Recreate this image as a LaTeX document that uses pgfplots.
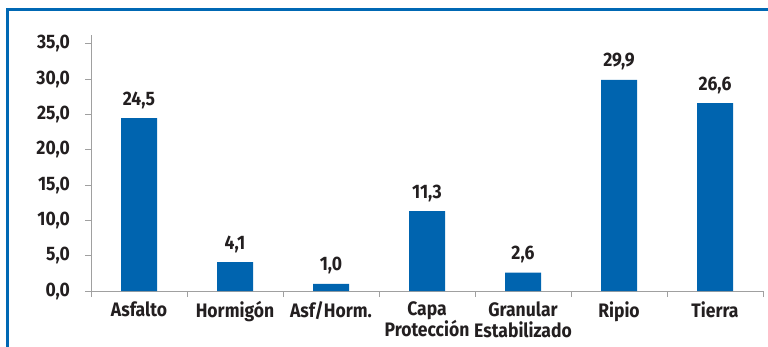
\documentclass[border=0pt]{standalone}
\usepackage{fontspec}
\setmainfont{Fira Sans}[FakeStretch=0.9]
\usepackage{pgfplots}
\pgfplotsset{compat=1.18}
\definecolor{barblue}{HTML}{0064AF}
\definecolor{frameblue}{HTML}{0068B4}
\definecolor{axgray}{HTML}{A0A0A0}
\definecolor{txt}{HTML}{231F20}
\begin{document}
\begin{tikzpicture}[x=1pt,y=1pt]
\useasboundingbox (0,0) rectangle (768,346);
\draw[frameblue, line width=3pt] (7,-10) -- (7,336) -- (780,336);
\begin{axis}[
  at={(91pt,55pt)}, anchor=south west,
  scale only axis,
  width=672pt, height=256.3pt,
  xmin=-0.5, xmax=6.5,
  ymin=0, ymax=36.3,
  axis lines=left,
  axis line style={axgray, line width=0.8pt, -},
  xtick={0,1,2,3,4,5,6},
  xticklabels={Asfalto, Hormigón, Asf/Horm., {Capa\\Protección}, {Granular\\Estabilizado}, Ripio, Tierra},
  major x tick style={draw=none},
  minor xtick={-0.5,0.5,1.5,2.5,3.5,4.5,5.5,6.5},
  minor x tick style={axgray, line width=0.8pt},
  minor tick length=6pt,
  ytick={0,5,...,35},
  y tick style={axgray, line width=0.8pt},
  major tick length=6pt,
  tick align=outside,
  font=\fontsize{19.5}{21}\selectfont\bfseries,
  every tick label/.append style={text=txt},
  xticklabel style={align=center, anchor=north, inner sep=0pt, yshift=-4pt,
    execute at begin node={\rule{0pt}{14pt}}},
  yticklabel style={anchor=east, inner sep=0pt, xshift=-15pt},
  /pgf/number format/.cd, fixed, fixed zerofill, precision=1, use comma, assume math mode=true,
  /pgfplots/.cd,
  ybar, bar width=36pt,
  nodes near coords,
  every node near coord/.append style={text=txt, anchor=base, inner sep=0pt, yshift=13pt,
    /pgf/number format/.cd, fixed, fixed zerofill, precision=1, use comma, assume math mode=true},
  clip=false,
]
\addplot[fill=barblue, draw=none] coordinates {(0,24.5) (1,4.1) (2,1.0) (3,11.3) (4,2.6) (5,29.9) (6,26.6)};
\end{axis}
\end{tikzpicture}
\end{document}
